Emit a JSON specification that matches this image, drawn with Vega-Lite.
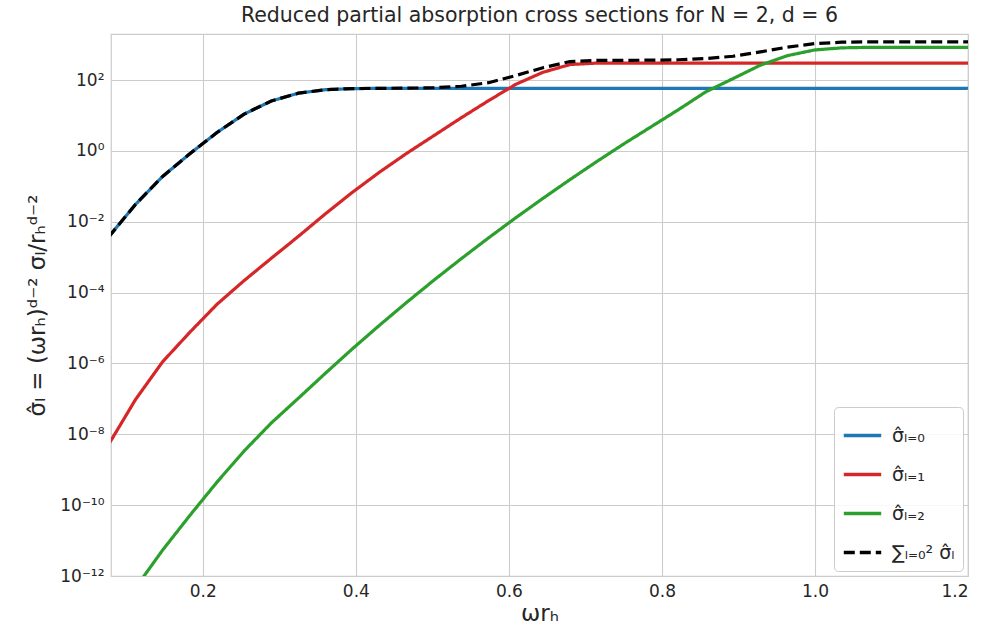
{
  "$schema": "https://vega.github.io/schema/vega-lite/v6.json",
  "autosize": "none",
  "width": 857,
  "height": 542,
  "padding": {"left": 111, "top": 34, "right": 17, "bottom": 56},
  "background": "white",
  "title": {"text": "Reduced partial absorption cross sections for N = 2, d = 6", "fontSize": 20.5, "font": "DejaVu Sans", "fontWeight": "normal", "color": "#262626", "offset": 8},
  "config": {
    "view": {"stroke": "#cccccc", "strokeWidth": 1.25},
    "axis": {"labelFont": "DejaVu Sans", "titleFont": "DejaVu Sans", "labelFontSize": 17, "titleFontSize": 23, "labelColor": "#262626", "titleColor": "#262626", "titleFontWeight": "normal", "gridColor": "#cccccc", "gridWidth": 1.1, "domain": false, "ticks": false, "labelPadding": 7},
    "legend": {"labelFont": "DejaVu Sans", "labelFontSize": 19, "labelColor": "#262626"}
  },
  "data": {"values": [
    {"x": 0.0765, "s": "0", "y": 3.63e-3},
    {"x": 0.112, "s": "0", "y": 3.09e-2},
    {"x": 0.1475, "s": "0", "y": 0.191},
    {"x": 0.183, "s": "0", "y": 0.832},
    {"x": 0.2185, "s": "0", "y": 3.31},
    {"x": 0.254, "s": "0", "y": 10.96},
    {"x": 0.2895, "s": "0", "y": 25.7},
    {"x": 0.325, "s": "0", "y": 42.7},
    {"x": 0.3605, "s": "0", "y": 53.7},
    {"x": 0.396, "s": "0", "y": 57.5},
    {"x": 0.4315, "s": "0", "y": 58.2},
    {"x": 1.2125, "s": "0", "y": 58.2},

    {"x": 0.0765, "s": "1", "y": 5.01e-9},
    {"x": 0.112, "s": "1", "y": 9.55e-8},
    {"x": 0.1475, "s": "1", "y": 1.12e-6},
    {"x": 0.183, "s": "1", "y": 7.59e-6},
    {"x": 0.2185, "s": "1", "y": 4.68e-5},
    {"x": 0.254, "s": "1", "y": 2.19e-4},
    {"x": 0.2895, "s": "1", "y": 9.33e-4},
    {"x": 0.325, "s": "1", "y": 3.89e-3},
    {"x": 0.3605, "s": "1", "y": 1.70e-2},
    {"x": 0.396, "s": "1", "y": 6.92e-2},
    {"x": 0.4315, "s": "1", "y": 0.257},
    {"x": 0.467, "s": "1", "y": 0.871},
    {"x": 0.5025, "s": "1", "y": 2.75},
    {"x": 0.538, "s": "1", "y": 8.71},
    {"x": 0.5735, "s": "1", "y": 26.3},
    {"x": 0.609, "s": "1", "y": 75.9},
    {"x": 0.6445, "s": "1", "y": 166},
    {"x": 0.68, "s": "1", "y": 275},
    {"x": 0.7155, "s": "1", "y": 302},
    {"x": 1.2125, "s": "1", "y": 302},

    {"x": 0.0765, "s": "2", "y": 3.24e-14},
    {"x": 0.112, "s": "2", "y": 4.63e-13},
    {"x": 0.1475, "s": "2", "y": 5.40e-12},
    {"x": 0.183, "s": "2", "y": 5.11e-11},
    {"x": 0.2185, "s": "2", "y": 4.47e-10},
    {"x": 0.254, "s": "2", "y": 3.39e-9},
    {"x": 0.2895, "s": "2", "y": 2.09e-8},
    {"x": 0.325, "s": "2", "y": 1.05e-7},
    {"x": 0.3605, "s": "2", "y": 5.37e-7},
    {"x": 0.396, "s": "2", "y": 2.65e-6},
    {"x": 0.4315, "s": "2", "y": 1.23e-5},
    {"x": 0.467, "s": "2", "y": 5.44e-5},
    {"x": 0.5025, "s": "2", "y": 2.29e-4},
    {"x": 0.538, "s": "2", "y": 9.16e-4},
    {"x": 0.5735, "s": "2", "y": 3.52e-3},
    {"x": 0.609, "s": "2", "y": 1.30e-2},
    {"x": 0.6445, "s": "2", "y": 4.58e-2},
    {"x": 0.68, "s": "2", "y": 0.156},
    {"x": 0.7155, "s": "2", "y": 0.512},
    {"x": 0.751, "s": "2", "y": 1.62},
    {"x": 0.7865, "s": "2", "y": 4.90},
    {"x": 0.822, "s": "2", "y": 14.8},
    {"x": 0.8575, "s": "2", "y": 46.8},
    {"x": 0.893, "s": "2", "y": 110},
    {"x": 0.9285, "s": "2", "y": 263},
    {"x": 0.964, "s": "2", "y": 490},
    {"x": 0.9995, "s": "2", "y": 708},
    {"x": 1.035, "s": "2", "y": 813},
    {"x": 1.0705, "s": "2", "y": 841},
    {"x": 1.2125, "s": "2", "y": 841},

    {"x": 0.0765, "s": "sum", "y": 3.63e-3},
    {"x": 0.112, "s": "sum", "y": 3.09e-2},
    {"x": 0.1475, "s": "sum", "y": 0.191},
    {"x": 0.183, "s": "sum", "y": 0.832},
    {"x": 0.2185, "s": "sum", "y": 3.31},
    {"x": 0.254, "s": "sum", "y": 10.96},
    {"x": 0.2895, "s": "sum", "y": 25.7},
    {"x": 0.325, "s": "sum", "y": 42.7},
    {"x": 0.3605, "s": "sum", "y": 53.7},
    {"x": 0.396, "s": "sum", "y": 57.6},
    {"x": 0.4315, "s": "sum", "y": 58.5},
    {"x": 0.467, "s": "sum", "y": 59.1},
    {"x": 0.5025, "s": "sum", "y": 61.0},
    {"x": 0.538, "s": "sum", "y": 66.9},
    {"x": 0.5735, "s": "sum", "y": 84.5},
    {"x": 0.609, "s": "sum", "y": 134},
    {"x": 0.6445, "s": "sum", "y": 224},
    {"x": 0.68, "s": "sum", "y": 334},
    {"x": 0.7155, "s": "sum", "y": 361},
    {"x": 0.751, "s": "sum", "y": 362},
    {"x": 0.7865, "s": "sum", "y": 365},
    {"x": 0.822, "s": "sum", "y": 375},
    {"x": 0.8575, "s": "sum", "y": 407},
    {"x": 0.893, "s": "sum", "y": 470},
    {"x": 0.9285, "s": "sum", "y": 623},
    {"x": 0.964, "s": "sum", "y": 850},
    {"x": 0.9995, "s": "sum", "y": 1068},
    {"x": 1.035, "s": "sum", "y": 1173},
    {"x": 1.0705, "s": "sum", "y": 1201},
    {"x": 1.2125, "s": "sum", "y": 1201}
  ]},
  "mark": {"type": "line", "strokeWidth": 3.2, "clip": true},
  "encoding": {
    "x": {"field": "x", "type": "quantitative", "scale": {"domain": [0.08, 1.2], "nice": false, "zero": false},
          "axis": {"values": [0.2, 0.4, 0.6, 0.8, 1.0, 1.2], "format": ".1f", "title": "ωrₕ", "titlePadding": 3}},
    "y": {"field": "y", "type": "quantitative", "scale": {"type": "log", "domain": [1e-12, 2000], "nice": false},
          "axis": {"values": [1e-12, 1e-10, 1e-8, 1e-6, 1e-4, 1e-2, 1, 100], "title": "σ̂ₗ = (ωrₕ)ᵈ⁻² σₗ/rₕᵈ⁻²", "titlePadding": 10,
                   "labelExpr": "round(log(datum.value)/LN10) == -12 ? '10⁻¹²' : round(log(datum.value)/LN10) == -10 ? '10⁻¹⁰' : round(log(datum.value)/LN10) == -8 ? '10⁻⁸' : round(log(datum.value)/LN10) == -6 ? '10⁻⁶' : round(log(datum.value)/LN10) == -4 ? '10⁻⁴' : round(log(datum.value)/LN10) == -2 ? '10⁻²' : round(log(datum.value)/LN10) == 0 ? '10⁰' : '10²'"}},
    "color": {"field": "s", "type": "nominal",
              "scale": {"domain": ["0", "1", "2", "sum"], "range": ["#1f77b4", "#d62728", "#2ca02c", "#000000"]},
              "legend": {"title": null, "orient": "bottom-right", "offset": 5, "padding": 8, "fillColor": "rgba(255,255,255,0.85)", "strokeColor": "#cccccc", "cornerRadius": 4,
                         "symbolType": "stroke", "symbolSize": 1400, "symbolStrokeWidth": 3.5, "labelOffset": 9, "rowPadding": 8,
                         "labelExpr": "datum.label == '0' ? 'σ̂ₗ₌₀' : datum.label == '1' ? 'σ̂ₗ₌₁' : datum.label == '2' ? 'σ̂ₗ₌₂' : '∑ₗ₌₀² σ̂ₗ'"}},
    "strokeDash": {"field": "s", "type": "nominal",
                   "scale": {"domain": ["0", "1", "2", "sum"], "range": [[1, 0], [1, 0], [1, 0], [11, 5]]},
                   "legend": {"title": null, "orient": "bottom-right", "offset": 5, "padding": 8, "fillColor": "rgba(255,255,255,0.85)", "strokeColor": "#cccccc", "cornerRadius": 4,
                         "symbolType": "stroke", "symbolSize": 1400, "symbolStrokeWidth": 3.5, "labelOffset": 9, "rowPadding": 8,
                         "labelExpr": "datum.label == '0' ? 'σ̂ₗ₌₀' : datum.label == '1' ? 'σ̂ₗ₌₁' : datum.label == '2' ? 'σ̂ₗ₌₂' : '∑ₗ₌₀² σ̂ₗ'"}}
  }
}
